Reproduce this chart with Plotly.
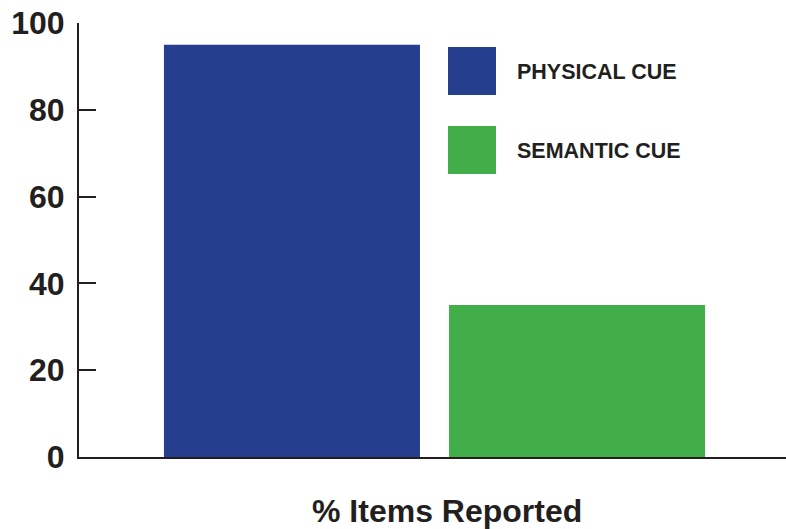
import plotly.graph_objects as go

categories = ["PHYSICAL CUE", "SEMANTIC CUE"]
values = [95, 35]
colors = ["#253E8D", "#42AE4A"]
y_ticks = [0, 20, 40, 60, 80, 100]
x_title = "% Items Reported"

W, H = 786, 529
L, R, T, B = 79, 0, 23, 72
pw, ph = W - L - R, H - T - B

def px_x(x):
    return (x - L) / pw

def px_y(y):
    return (H - B - y) / ph

TXT = "#231f20"
FONT = "Liberation Sans"

fig = go.Figure()
fig.add_trace(go.Bar(
    x=list(range(len(categories))), y=values,
    marker=dict(color=colors, line=dict(width=0)),
    width=0.898, showlegend=False,
))

shapes = []
annotations = []
sq_tops = [47, 126]
for i, (name, col) in enumerate(zip(categories, colors)):
    top = sq_tops[i]
    shapes.append(dict(type="rect", xref="paper", yref="paper",
                       x0=px_x(448), x1=px_x(496), y0=px_y(top + 48), y1=px_y(top),
                       fillcolor=col, line=dict(width=0)))
    annotations.append(dict(text=name, xref="paper", yref="paper",
                            x=px_x(515), y=px_y(top + 25), xanchor="left", yanchor="middle",
                            showarrow=False,
                            font=dict(family=FONT, size=21.5, color=TXT, weight="bold")))

annotations.append(dict(text=x_title, xref="paper", yref="paper",
                        x=px_x(447), y=px_y(511), xanchor="center", yanchor="middle",
                        showarrow=False,
                        font=dict(family=FONT, size=32, color=TXT, weight="bold")))

fig.update_layout(
    width=W, height=H,
    margin=dict(l=L, r=R, t=T, b=B, pad=0),
    paper_bgcolor="white", plot_bgcolor="white",
    shapes=shapes, annotations=annotations,
    xaxis=dict(range=[-0.747, 1.733], showline=True, linewidth=2, linecolor=TXT,
               showticklabels=False, ticks="", showgrid=False, zeroline=False),
    yaxis=dict(range=[0, 100], tickvals=y_ticks, ticks="inside", ticklen=17, tickwidth=1.5,
               tickcolor=TXT, showline=True, linewidth=2, linecolor=TXT,
               showgrid=False, zeroline=False, ticklabelstandoff=6,
               tickfont=dict(family=FONT, size=32, color=TXT, weight="bold")),
)

fig.write_html("out.html")
